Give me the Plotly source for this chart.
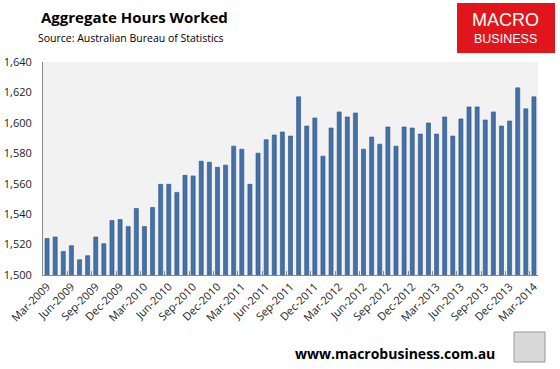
import plotly.graph_objects as go

months = ["Jan", "Feb", "Mar", "Apr", "May", "Jun", "Jul", "Aug", "Sep", "Oct", "Nov", "Dec"]
categories = []
for i in range(61):
    m = (2 + i) % 12
    y = 2009 + (2 + i) // 12
    categories.append(f"{months[m]}-{y}")

hours = [1524, 1525, 1515.5, 1519.3, 1510, 1512.7, 1525, 1520.6, 1535.8, 1536.5,
         1531.8, 1543.7, 1531.8, 1544.4, 1559.6, 1559.6, 1554.3, 1565.5, 1565.1, 1574.8,
         1574.1, 1570.8, 1572.2, 1584.7, 1582.7, 1559.6, 1580.1, 1588.9, 1592, 1594,
         1591.3, 1617.1, 1597.9, 1603.2, 1578.1, 1596.6, 1607.2, 1603.9, 1606.5, 1582.7,
         1590.7, 1586, 1597.3, 1584.7, 1597.3, 1596.6, 1592.6, 1599.9, 1592.6, 1603.9,
         1591.3, 1602.6, 1610.5, 1610.5, 1601.9, 1607.2, 1597.9, 1601.2, 1623, 1609.2,
         1617.1]

tick_labels = categories[::3]
y_ticks = [1500, 1520, 1540, 1560, 1580, 1600, 1620, 1640]

font = "Open Sans"
W, H = 560, 369
pl, pr, pt, pb = 43, 22, 62, 94
pw, ph = W - pl - pr, H - pt - pb


def px(x):
    return (x - pl) / pw


def py(y):
    return (H - y - pb) / ph


fig = go.Figure(go.Bar(
    x=categories, y=hours,
    marker=dict(color="#4471a6", line=dict(color="#2e5384", width=0.6)),
))

fig.update_layout(
    width=W, height=H,
    margin=dict(l=pl, r=pr, t=pt, b=pb, autoexpand=False),
    paper_bgcolor="white", plot_bgcolor="#f2f2f2",
    bargap=0.5, showlegend=False,
    font=dict(family=font, color="#222", size=11),
)
fig.update_xaxes(
    type="category", tickmode="array", tickvals=tick_labels, ticktext=tick_labels,
    tickangle=-45, tickfont=dict(size=11, family=font, color="#222"),
    showline=True, linecolor="#888", linewidth=1,
    ticks="inside", ticklen=4, tickcolor="#888", tickson="boundaries",
    showgrid=False, automargin=False,
)
fig.update_yaxes(
    range=[1500, 1640], tickvals=y_ticks, tickformat=",d",
    tickfont=dict(size=11, family=font, color="#222"),
    showline=True, linecolor="#888", linewidth=1, showgrid=False, ticks="",
    zeroline=False, ticklabelstandoff=8, automargin=False,
)


def label(x, y, text, size, family=font, color="black", pad=1):
    fig.add_annotation(x=px(x), y=py(y), xref="paper", yref="paper", text=text,
                       showarrow=False, xanchor="center", yanchor="middle", borderpad=pad,
                       font=dict(size=size, family=family, color=color))


label(134, 17, "<b>Aggregate Hours Worked</b>", 15)
label(131, 38, "Source: Australian Bureau of Statistics", 10.5)

# logo
fig.add_shape(type="rect", xref="paper", yref="paper", x0=px(457), x1=px(555), y0=py(53), y1=py(3),
              fillcolor="#e0161c", line=dict(width=0), layer="above")
label(505, 20.5, "MACRO", 18, "Liberation Sans", "white", pad=0)
label(505, 38.5, "BUSINESS", 12.5, "Liberation Sans", "white", pad=0)

label(395, 353, "<b>www.macrobusiness.com.au</b>", 14)
fig.add_shape(type="rect", xref="paper", yref="paper", x0=px(514), x1=px(545), y0=py(362), y1=py(332),
              fillcolor="#d8d8d8", line=dict(color="#999", width=1))

fig.write_html("out.html", config={"displayModeBar": False},
               post_script="document.body.style.margin='0';")
